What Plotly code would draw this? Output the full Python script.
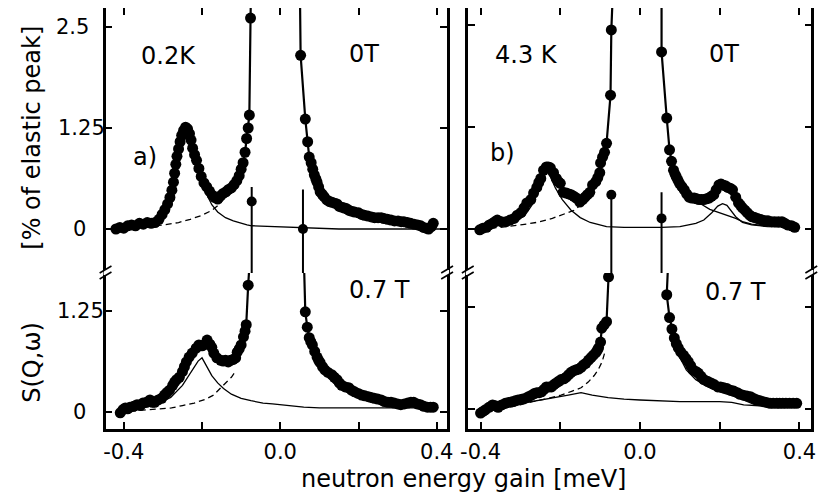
import plotly.graph_objects as go

# ====================== DATA ======================
# x: neutron energy gain [meV], y: S(Q,w) [% of elastic peak]

# ---- panel a) 0.2 K, 0 T (upper frame) ----
a_0T_left = [(-0.420, 0.00), (-0.410, 0.02), (-0.400, 0.01), (-0.390, 0.04), (-0.380, 0.05), (-0.370, 0.04),
             (-0.360, 0.07), (-0.350, 0.06), (-0.340, 0.08), (-0.330, 0.07), (-0.320, 0.08), (-0.310, 0.12),
             (-0.302, 0.18), (-0.295, 0.24), (-0.288, 0.31), (-0.282, 0.39), (-0.277, 0.48), (-0.273, 0.58),
             (-0.270, 0.69), (-0.267, 0.80), (-0.264, 0.90), (-0.260, 0.99), (-0.256, 1.08), (-0.252, 1.16),
             (-0.247, 1.22), (-0.242, 1.26), (-0.237, 1.24), (-0.232, 1.18), (-0.228, 1.10), (-0.224, 1.00),
             (-0.219, 0.92), (-0.214, 0.85), (-0.208, 0.75), (-0.202, 0.65), (-0.195, 0.57), (-0.188, 0.52),
             (-0.181, 0.47), (-0.174, 0.42), (-0.167, 0.39), (-0.160, 0.37), (-0.153, 0.41), (-0.146, 0.44),
             (-0.139, 0.46), (-0.132, 0.49), (-0.125, 0.51), (-0.118, 0.55), (-0.111, 0.60), (-0.105, 0.66),
             (-0.100, 0.74), (-0.095, 0.82), (-0.090, 0.95), (-0.086, 1.12), (-0.082, 1.25), (-0.079, 1.41),
             (-0.076, 2.61), (-0.073, 3.50)]
a_0T_right = [(0.049, 3.50), (0.052, 2.15), (0.064, 1.36), (0.070, 1.08), (0.074, 0.89), (0.079, 0.82),
              (0.083, 0.74), (0.087, 0.67), (0.091, 0.62), (0.094, 0.58), (0.098, 0.52), (0.102, 0.46),
              (0.107, 0.43), (0.112, 0.40), (0.119, 0.36), (0.126, 0.34), (0.132, 0.33), (0.139, 0.32),
              (0.145, 0.31), (0.151, 0.28), (0.157, 0.27), (0.164, 0.26), (0.170, 0.25), (0.176, 0.23),
              (0.182, 0.22), (0.190, 0.21), (0.200, 0.20), (0.208, 0.18), (0.215, 0.17), (0.224, 0.16),
              (0.233, 0.15), (0.241, 0.14), (0.250, 0.14), (0.258, 0.14), (0.265, 0.13), (0.274, 0.12),
              (0.283, 0.11), (0.292, 0.10), (0.301, 0.10), (0.309, 0.09), (0.316, 0.09), (0.325, 0.08),
              (0.333, 0.07), (0.342, 0.06), (0.351, 0.05), (0.359, 0.04), (0.366, 0.02), (0.373, 0.01),
              (0.379, 0.00), (0.386, 0.03), (0.391, 0.07)]
a_0T_inel = [(-0.420, 0.00), (-0.380, 0.02), (-0.340, 0.05), (-0.310, 0.12), (-0.290, 0.25), (-0.275, 0.48),
             (-0.262, 0.80), (-0.250, 1.05), (-0.240, 1.15), (-0.230, 1.10), (-0.218, 0.92), (-0.205, 0.68),
             (-0.190, 0.45), (-0.175, 0.30), (-0.160, 0.21), (-0.140, 0.14), (-0.120, 0.10), (-0.100, 0.07),
             (-0.085, 0.05), (-0.073, 0.04), (0.000, 0.025), (0.058, 0.01), (0.150, 0.00), (0.300, 0.00),
             (0.410, 0.00)]
a_0T_qe = [(-0.420, 0.00), (-0.380, 0.01), (-0.340, 0.03), (-0.300, 0.05), (-0.260, 0.08), (-0.230, 0.12),
           (-0.200, 0.17), (-0.175, 0.23), (-0.155, 0.31), (-0.135, 0.42), (-0.120, 0.52)]
# 0.7 T central lines continuing above the axis break (drawn in the upper frame)
a_07T_up_left = [(-0.073, -0.70), (-0.073, 0.34), (-0.073, 0.52)]
a_07T_up_right = [(0.058, -0.70), (0.058, 0.00), (0.058, 0.49)]
a_07T_up_pts = [(-0.073, 0.34), (0.058, 0.00)]

# ---- panel a) 0.2 K, 0.7 T (lower frame) ----
a_07T_left = [(-0.409, -0.01), (-0.402, 0.03), (-0.396, 0.05), (-0.390, 0.04), (-0.384, 0.06), (-0.375, 0.07),
              (-0.366, 0.09), (-0.358, 0.08), (-0.351, 0.11), (-0.342, 0.12), (-0.333, 0.15), (-0.327, 0.12),
              (-0.321, 0.12), (-0.312, 0.15), (-0.303, 0.17), (-0.296, 0.21), (-0.290, 0.24), (-0.283, 0.27),
              (-0.275, 0.33), (-0.270, 0.37), (-0.265, 0.40), (-0.258, 0.43), (-0.250, 0.50), (-0.245, 0.56),
              (-0.240, 0.62), (-0.233, 0.68), (-0.225, 0.73), (-0.215, 0.79), (-0.208, 0.83), (-0.200, 0.82),
              (-0.195, 0.83), (-0.187, 0.89), (-0.180, 0.84), (-0.175, 0.80), (-0.170, 0.73), (-0.162, 0.67),
              (-0.152, 0.64), (-0.146, 0.63), (-0.140, 0.64), (-0.133, 0.62), (-0.127, 0.64), (-0.120, 0.65),
              (-0.114, 0.67), (-0.110, 0.74), (-0.105, 0.78), (-0.100, 0.83), (-0.094, 0.93), (-0.090, 1.00),
              (-0.087, 1.08), (-0.082, 1.57), (-0.077, 1.95)]
a_07T_right = [(0.060, 1.95), (0.064, 1.24), (0.069, 1.05), (0.074, 0.92), (0.078, 0.87), (0.082, 0.83),
               (0.088, 0.75), (0.094, 0.68), (0.098, 0.64), (0.102, 0.61), (0.108, 0.56), (0.114, 0.52),
               (0.122, 0.49), (0.132, 0.46), (0.138, 0.43), (0.145, 0.40), (0.151, 0.36), (0.157, 0.33),
               (0.166, 0.31), (0.175, 0.30), (0.182, 0.27), (0.190, 0.25), (0.199, 0.23), (0.208, 0.21),
               (0.216, 0.20), (0.225, 0.19), (0.232, 0.18), (0.240, 0.17), (0.249, 0.16), (0.258, 0.15),
               (0.266, 0.13), (0.275, 0.12), (0.283, 0.12), (0.291, 0.11), (0.300, 0.10), (0.308, 0.09),
               (0.317, 0.10), (0.326, 0.11), (0.334, 0.12), (0.341, 0.12), (0.350, 0.10), (0.358, 0.09),
               (0.367, 0.07), (0.376, 0.06), (0.384, 0.06), (0.391, 0.06)]
a_07T_inel = [(-0.410, 0.01), (-0.360, 0.04), (-0.320, 0.09), (-0.280, 0.18), (-0.250, 0.33), (-0.225, 0.52),
              (-0.210, 0.63), (-0.200, 0.67), (-0.190, 0.58), (-0.175, 0.45), (-0.160, 0.36), (-0.145, 0.29),
              (-0.125, 0.22), (-0.100, 0.17), (-0.075, 0.14), (-0.044, 0.11), (-0.020, 0.10), (0.020, 0.08),
              (0.060, 0.06), (0.100, 0.05), (0.200, 0.05), (0.300, 0.05), (0.390, 0.05)]
a_07T_qe = [(-0.410, 0.00), (-0.360, 0.02), (-0.320, 0.04), (-0.278, 0.05), (-0.250, 0.08), (-0.220, 0.11),
            (-0.190, 0.16), (-0.170, 0.21), (-0.150, 0.31), (-0.135, 0.38), (-0.125, 0.43), (-0.115, 0.50)]

# ---- panel b) 4.3 K, 0 T (upper frame) ----
b_0T_left = [(-0.402, -0.01), (-0.394, 0.01), (-0.385, 0.02), (-0.378, 0.05), (-0.370, 0.07), (-0.364, 0.09),
             (-0.358, 0.11), (-0.348, 0.09), (-0.336, 0.09), (-0.326, 0.11), (-0.316, 0.13), (-0.308, 0.17),
             (-0.299, 0.20), (-0.291, 0.26), (-0.284, 0.32), (-0.274, 0.36), (-0.267, 0.44), (-0.259, 0.51),
             (-0.254, 0.57), (-0.249, 0.62), (-0.242, 0.72), (-0.235, 0.76), (-0.230, 0.76), (-0.225, 0.75),
             (-0.217, 0.69), (-0.210, 0.62), (-0.205, 0.58), (-0.200, 0.56), (-0.193, 0.45), (-0.185, 0.44),
             (-0.179, 0.43), (-0.173, 0.42), (-0.166, 0.40), (-0.160, 0.38), (-0.151, 0.33), (-0.144, 0.36),
             (-0.138, 0.39), (-0.132, 0.42), (-0.126, 0.45), (-0.119, 0.54), (-0.111, 0.58), (-0.106, 0.63),
             (-0.101, 0.69), (-0.099, 0.81), (-0.094, 0.88), (-0.089, 0.94), (-0.084, 1.05), (-0.074, 1.64),
             (-0.072, 2.44), (-0.067, 3.05)]
b_0T_right = [(0.054, 3.05), (0.054, 2.17), (0.067, 1.36), (0.074, 0.97), (0.079, 0.83), (0.084, 0.72),
              (0.088, 0.67), (0.091, 0.64), (0.095, 0.60), (0.099, 0.56), (0.105, 0.52), (0.111, 0.48),
              (0.117, 0.43), (0.123, 0.39), (0.130, 0.38), (0.136, 0.38), (0.142, 0.37), (0.148, 0.36),
              (0.154, 0.36), (0.160, 0.36), (0.167, 0.37), (0.173, 0.38), (0.179, 0.40), (0.185, 0.42),
              (0.191, 0.48), (0.198, 0.54), (0.203, 0.55), (0.207, 0.54), (0.214, 0.53), (0.220, 0.51),
              (0.226, 0.50), (0.232, 0.48), (0.240, 0.39), (0.247, 0.32), (0.252, 0.29), (0.257, 0.26),
              (0.263, 0.23), (0.269, 0.20), (0.275, 0.17), (0.281, 0.15), (0.288, 0.14), (0.294, 0.13),
              (0.300, 0.12), (0.306, 0.11), (0.314, 0.10), (0.321, 0.10), (0.330, 0.09), (0.338, 0.09),
              (0.347, 0.09), (0.356, 0.09), (0.363, 0.07), (0.370, 0.05), (0.380, 0.04), (0.388, 0.02)]
b_0T_inel = [(-0.410, 0.02), (-0.360, 0.04), (-0.320, 0.08), (-0.290, 0.16), (-0.270, 0.30), (-0.255, 0.50),
             (-0.243, 0.66), (-0.235, 0.72), (-0.225, 0.64), (-0.212, 0.50), (-0.195, 0.36), (-0.173, 0.23),
             (-0.150, 0.14), (-0.125, 0.08), (-0.100, 0.05), (-0.084, 0.03), (-0.040, 0.02), (0.000, 0.02),
             (0.054, 0.02), (0.100, 0.03), (0.140, 0.07), (0.160, 0.11), (0.180, 0.20), (0.195, 0.28),
             (0.207, 0.31), (0.218, 0.29), (0.230, 0.22), (0.240, 0.15), (0.257, 0.08), (0.280, 0.05),
             (0.320, 0.03), (0.360, 0.02), (0.390, 0.02)]
b_0T_qe = [(-0.400, 0.00), (-0.350, 0.02), (-0.300, 0.05), (-0.260, 0.08), (-0.220, 0.13), (-0.190, 0.18),
           (-0.165, 0.23), (-0.150, 0.29), (-0.135, 0.36), (-0.120, 0.45)]
b_0T_qe_right = [(0.135, 0.38), (0.155, 0.30), (0.175, 0.24), (0.200, 0.20), (0.215, 0.17), (0.240, 0.13),
                 (0.257, 0.09), (0.280, 0.06), (0.310, 0.04), (0.350, 0.03)]
b_07T_up_left = [(-0.072, -0.70), (-0.072, 0.42)]
b_07T_up_right = [(0.054, -0.70), (0.054, 0.13), (0.054, 0.45)]
b_07T_up_pts = [(-0.072, 0.42), (0.054, 0.13)]

# ---- panel b) 4.3 K, 0.7 T (lower frame) ----
b_07T_left = [(-0.400, -0.05), (-0.394, -0.03), (-0.388, -0.01), (-0.379, 0.02), (-0.370, 0.05), (-0.363, 0.04),
              (-0.356, 0.02), (-0.347, 0.05), (-0.338, 0.07), (-0.330, 0.08), (-0.321, 0.09), (-0.313, 0.10),
              (-0.306, 0.11), (-0.297, 0.12), (-0.289, 0.13), (-0.280, 0.15), (-0.272, 0.17), (-0.265, 0.19),
              (-0.259, 0.20), (-0.253, 0.20), (-0.247, 0.21), (-0.241, 0.24), (-0.235, 0.27), (-0.228, 0.27),
              (-0.222, 0.27), (-0.216, 0.30), (-0.210, 0.32), (-0.204, 0.34), (-0.198, 0.36), (-0.191, 0.37),
              (-0.185, 0.39), (-0.179, 0.42), (-0.173, 0.45), (-0.166, 0.47), (-0.160, 0.48), (-0.154, 0.49),
              (-0.148, 0.51), (-0.142, 0.54), (-0.136, 0.56), (-0.129, 0.60), (-0.123, 0.63), (-0.117, 0.66),
              (-0.111, 0.69), (-0.107, 0.72), (-0.104, 0.75), (-0.099, 0.82), (-0.096, 0.99), (-0.090, 1.03),
              (-0.084, 1.07), (-0.079, 1.62), (-0.074, 1.95)]
b_07T_right = [(0.072, 1.95), (0.067, 1.40), (0.074, 1.12), (0.080, 0.98), (0.086, 0.87), (0.091, 0.80),
               (0.096, 0.75), (0.102, 0.70), (0.109, 0.66), (0.115, 0.62), (0.121, 0.58), (0.127, 0.53),
               (0.133, 0.48), (0.140, 0.46), (0.146, 0.44), (0.153, 0.40), (0.160, 0.36), (0.169, 0.34),
               (0.178, 0.32), (0.186, 0.30), (0.195, 0.27), (0.202, 0.27), (0.210, 0.26), (0.218, 0.25),
               (0.227, 0.23), (0.235, 0.22), (0.244, 0.20), (0.251, 0.18), (0.259, 0.17), (0.268, 0.16),
               (0.277, 0.15), (0.285, 0.13), (0.294, 0.11), (0.301, 0.10), (0.309, 0.09), (0.317, 0.08),
               (0.326, 0.07), (0.334, 0.07), (0.343, 0.07), (0.350, 0.07), (0.358, 0.07), (0.366, 0.07),
               (0.375, 0.07), (0.384, 0.07), (0.393, 0.07)]
b_07T_inel = [(-0.400, -0.02), (-0.340, 0.03), (-0.280, 0.08), (-0.220, 0.13), (-0.180, 0.17), (-0.148, 0.20),
              (-0.120, 0.17), (-0.080, 0.14), (-0.040, 0.12), (0.000, 0.11), (0.050, 0.10), (0.100, 0.09),
              (0.150, 0.09), (0.200, 0.09), (0.230, 0.08), (0.260, 0.05), (0.300, 0.04), (0.350, 0.04),
              (0.390, 0.04)]
b_07T_qe = [(-0.400, -0.03), (-0.356, -0.01), (-0.310, 0.04), (-0.270, 0.09), (-0.230, 0.13), (-0.198, 0.17),
            (-0.170, 0.22), (-0.148, 0.26), (-0.130, 0.33), (-0.115, 0.41), (-0.105, 0.48), (-0.095, 0.58),
            (-0.088, 0.70)]
b_07T_qe_right = [(0.085, 0.80), (0.100, 0.63), (0.116, 0.48), (0.140, 0.36), (0.170, 0.27), (0.200, 0.21),
                  (0.240, 0.15), (0.270, 0.09), (0.289, 0.05), (0.320, 0.04)]

# ticks
x_tick_vals = [-0.4, -0.2, 0.0, 0.2, 0.4]
x_tick_text = ["-0.4", "", "0.0", "", "0.4"]
y_top_ticks = [0, 1.25, 2.5]
y_top_labels = ["0", "1.25", "2.5"]
y_bot_ticks = [0, 1.25]
y_bot_labels = ["0", "1.25"]

# ====================== LAYOUT GEOMETRY ======================
W, H = 828, 497
OFF = 8  # the page shifts the figure by the body margin; compensate
def fx(p):
    return (p - OFF) / W
def fy(p):
    return 1 - (p - OFF) / H

TOP_PX, BRK_PX, BOT_PX = 8, 273, 429
A_DOM = [fx(100), fx(447)]
B_DOM = [fx(468), fx(817)]
Y_TOP = [fy(BRK_PX), fy(TOP_PX)]
Y_BOT = [fy(BOT_PX), fy(BRK_PX)]

def xr(left_px, right_px, zero_px, px_per_unit):
    return [(left_px - zero_px) / px_per_unit, (right_px - zero_px) / px_per_unit]
def yr(zero_px, px_per_unit, lo_px, hi_px):
    return [(zero_px - lo_px) / px_per_unit, (zero_px - hi_px) / px_per_unit]

A_XR = xr(100, 447, 277.5, 397.5)
B_XR = xr(468, 817, 643, 405)
A_TOP_YR = yr(229, 80.8, BRK_PX, TOP_PX)
A_BOT_YR = yr(412, 80.8, BOT_PX, BRK_PX)
B_TOP_YR = yr(229, 81.6, BRK_PX, TOP_PX)
B_BOT_YR = yr(409, 81.6, BOT_PX, BRK_PX)

FONT = "DejaVu Sans"

fig = go.Figure()

def xs(pts):
    return [p[0] for p in pts]
def ys(pts):
    return [p[1] for p in pts]

def add_data(pts, xa, ya):
    fig.add_trace(go.Scatter(x=xs(pts), y=ys(pts), mode="lines+markers", xaxis=xa, yaxis=ya,
                             line=dict(color="black", width=2.2),
                             marker=dict(color="black", size=11),
                             showlegend=False, hoverinfo="skip"))

def add_line(pts, xa, ya, dash="solid", width=1.3):
    fig.add_trace(go.Scatter(x=xs(pts), y=ys(pts), mode="lines", xaxis=xa, yaxis=ya,
                             line=dict(color="black", width=width, dash=dash),
                             showlegend=False, hoverinfo="skip"))

def add_pts(pts, xa, ya):
    fig.add_trace(go.Scatter(x=xs(pts), y=ys(pts), mode="markers", xaxis=xa, yaxis=ya,
                             marker=dict(color="black", size=10),
                             showlegend=False, hoverinfo="skip"))

# panel a upper (x3, y)
add_line(a_0T_qe, "x3", "y", dash="6px,4px")
add_line(a_0T_inel, "x3", "y")
add_line(a_07T_up_left, "x3", "y", width=2)
add_line(a_07T_up_right, "x3", "y", width=2)
add_pts(a_07T_up_pts, "x3", "y")
add_data(a_0T_left, "x3", "y")
add_data(a_0T_right, "x3", "y")
# panel a lower (x, y2)
add_line(a_07T_qe, "x", "y2", dash="6px,4px")
add_line(a_07T_inel, "x", "y2")
add_data(a_07T_left, "x", "y2")
add_data(a_07T_right, "x", "y2")
# panel b upper (x4, y3)
add_line(b_0T_qe, "x4", "y3", dash="6px,4px")
add_line(b_0T_qe_right, "x4", "y3")
add_line(b_0T_inel, "x4", "y3")
add_line(b_07T_up_left, "x4", "y3", width=2)
add_line(b_07T_up_right, "x4", "y3", width=2)
add_pts(b_07T_up_pts, "x4", "y3")
add_data(b_0T_left, "x4", "y3")
add_data(b_0T_right, "x4", "y3")
# panel b lower (x2, y4)
add_line(b_07T_qe, "x2", "y4", dash="6px,4px")
add_line(b_07T_qe_right, "x2", "y4")
add_line(b_07T_inel, "x2", "y4")
add_data(b_07T_left, "x2", "y4")
add_data(b_07T_right, "x2", "y4")

ax = dict(showgrid=False, zeroline=False, showline=True, linecolor="black", linewidth=2.5,
          ticks="inside", ticklen=7, tickwidth=1.8, tickcolor="black", fixedrange=True)

fig.update_layout(
    width=W, height=H,
    margin=dict(l=0, r=0, t=0, b=0),
    paper_bgcolor="white", plot_bgcolor="white",
    font=dict(family=FONT, color="black", size=20),
    showlegend=False,
    xaxis=dict(**ax, domain=A_DOM, anchor="y2", range=A_XR, tickvals=x_tick_vals, ticktext=x_tick_text,
               tickfont=dict(size=21), ticklabelstandoff=2),
    xaxis3=dict(**ax, domain=A_DOM, anchor="y", side="top", range=A_XR, tickvals=x_tick_vals,
                showticklabels=False),
    xaxis2=dict(**ax, domain=B_DOM, anchor="y4", range=B_XR, tickvals=x_tick_vals, ticktext=x_tick_text,
                tickfont=dict(size=21), ticklabelstandoff=2),
    xaxis4=dict(**ax, domain=B_DOM, anchor="y3", side="top", range=B_XR, tickvals=x_tick_vals,
                showticklabels=False),
    yaxis=dict(**ax, domain=Y_TOP, anchor="x3", range=A_TOP_YR, tickvals=y_top_ticks, showticklabels=False,
               mirror="ticks"),
    yaxis2=dict(**ax, domain=Y_BOT, anchor="x", range=A_BOT_YR, tickvals=y_bot_ticks, showticklabels=False,
                mirror="ticks"),
    yaxis3=dict(**ax, domain=Y_TOP, anchor="x4", range=B_TOP_YR, tickvals=y_top_ticks, showticklabels=False,
                mirror="ticks"),
    yaxis4=dict(**ax, domain=Y_BOT, anchor="x2", range=B_BOT_YR, tickvals=y_bot_ticks, showticklabels=False,
                mirror="ticks"),
)

annotations = []
# y tick labels of panel a (roughly centred, as in the original)
top_label_cx = [74, 76, 66]
for v, t, cx in zip(y_top_ticks, y_top_labels, top_label_cx):
    annotations.append(dict(text=t, x=fx(cx), xref="paper", y=v, yref="y", showarrow=False,
                            xanchor="center", yanchor="middle", font=dict(size=21)))
bot_label_cx = [74, 75]
for v, t, cx in zip(y_bot_ticks, y_bot_labels, bot_label_cx):
    annotations.append(dict(text=t, x=fx(cx), xref="paper", y=v, yref="y2", showarrow=False,
                            xanchor="center", yanchor="middle", font=dict(size=21)))

def lab(text, cx, cy, size=24, angle=0):
    annotations.append(dict(text=text, x=fx(cx), y=fy(cy), xref="paper", yref="paper", showarrow=False,
                            xanchor="center", yanchor="middle", textangle=angle, font=dict(size=size)))

lab("0.2K", 164, 56)
lab("0T", 363, 54)
lab("a)", 140, 157)
lab("0.7 T", 378, 290)
lab("4.3 K", 528, 55)
lab("0T", 728, 54)
lab("b)", 503, 153)
lab("0.7 T", 740, 292)
lab("S(Q,ω)", 25, 362, size=24, angle=-90)
lab("[% of elastic peak]", 25, 138, size=24, angle=-90)
lab("neutron energy gain [meV]", 464, 479, size=24)
fig.update_layout(annotations=annotations)

# axis-break marks "//" on the frame sides
shapes = []
for cx in (100, 447, 468, 817):
    cy = BRK_PX
    shapes.append(dict(type="rect", xref="paper", yref="paper", x0=fx(cx - 2), x1=fx(cx + 2),
                       y0=fy(cy + 2), y1=fy(cy - 3), line=dict(width=0), fillcolor="white"))
    for d in (-3, 3):
        shapes.append(dict(type="line", xref="paper", yref="paper",
                           x0=fx(cx - 6), y0=fy(cy + 3 + d), x1=fx(cx + 6), y1=fy(cy - 4 + d),
                           line=dict(color="black", width=1.6)))
fig.update_layout(shapes=shapes)

fig.write_html("out.html")
